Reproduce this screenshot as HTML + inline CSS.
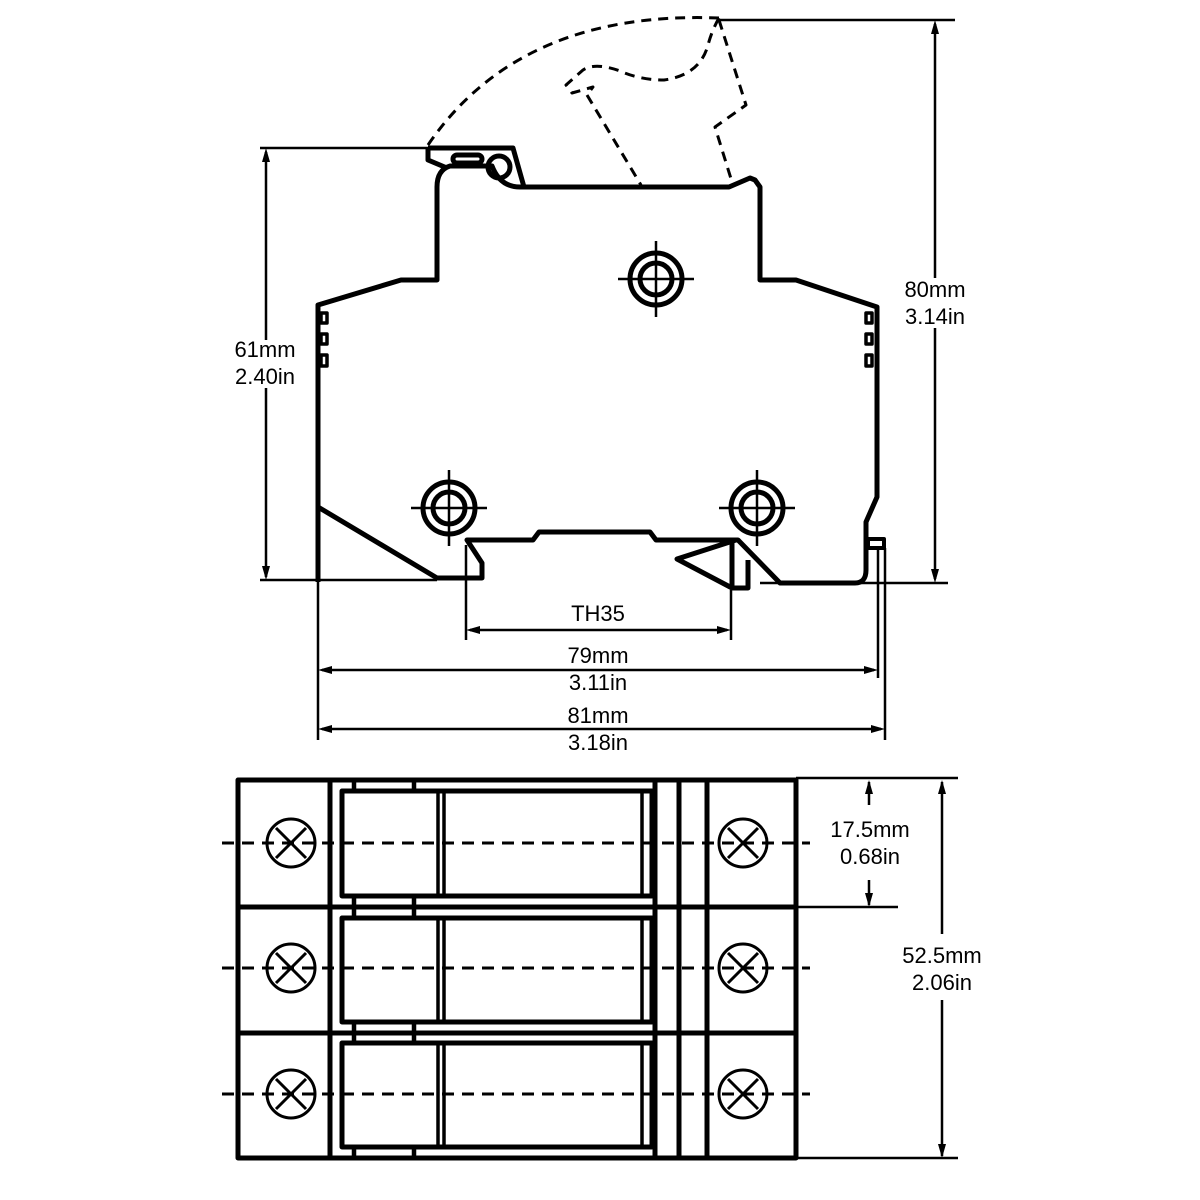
<!DOCTYPE html>
<html><head><style>body{margin:0;background:#fff}svg{display:block}text{font-family:"Liberation Sans",sans-serif;font-size:22px;fill:#000;text-anchor:middle}</style></head>
<body>
<svg width="1200" height="1200" viewBox="0 0 1200 1200">
<g fill="none" stroke="#000" stroke-linejoin="round">
<!-- dashed open handle -->
<g stroke-width="3" stroke-dasharray="10,7">
<path d="M428,145 Q520,10 719,18"/>
<path d="M719,18 Q712,30 708,45 Q700,75 664,80 Q640,80 620,71 Q595,62 583,70 L566,85 L572,93 L593,87 L587,95"/>
<path d="M587,95 L641,185"/>
<path d="M719,20 L746,105 L715,127 L732,182"/>
</g>
<!-- body -->
<g stroke-width="5">
<path d="M318,582 L318,305 L401,280 L437,280 L437,187 Q437,170 450,166 L492,166 Q500,187 520,187 L729,187 L750,178 L755,180 L760,187 L760,280 L796,280 L877,307 L877,497 L866,522 L866,570 Q866,583 855,583 L780,583 L738,540 L736,540"/>
<path d="M318,507 L437,578 L482,578 L482,563 L467,540 L533,540 L539,532 L650,532 L656,540 L736,540 L677,559 L732,588 L748,588 L748,560 M732,540 L732,588"/>
<path d="M428,148 L513,148 L524,187 M428,148 L428,160 L447,168"/>
<rect x="453" y="155" width="29" height="8" rx="4"/>
<circle cx="499" cy="167" r="11"/>
<rect x="868" y="539" width="16" height="9" stroke-width="4"/>
</g>
<g stroke-width="3.5">
<rect x="321" y="313" width="6" height="10"/><rect x="321" y="334" width="6" height="10"/><rect x="321" y="355" width="6" height="11"/>
<rect x="866" y="313" width="6" height="10"/><rect x="866" y="334" width="6" height="10"/><rect x="866" y="355" width="6" height="11"/>
</g>
<!-- terminal circles -->
<g stroke-width="5">
<circle cx="656" cy="279" r="26"/><circle cx="656" cy="279" r="16"/>
<circle cx="449" cy="508" r="26"/><circle cx="449" cy="508" r="16"/>
<circle cx="757" cy="508" r="26"/><circle cx="757" cy="508" r="16"/>
</g>
<g stroke-width="2.5">
<path d="M618,279h76M656,241v76M411,508h76M449,470v76M719,508h76M757,470v76"/>
<!-- dims top -->
<path d="M260,148H428M260,580H437M719,20H955M760,583H948"/>
<path d="M266,152V340M266,388V577"/>
<path d="M935,24V278M935,328V579"/>
<path d="M466,545V640M731,590V640M318,582V740M878,548V678M885,548V740"/>
<path d="M470,630H727M322,670H874M322,729H881"/>
</g>
<!-- bottom view -->
<g stroke-width="5">
<rect x="238" y="780" width="558" height="378"/>
<path d="M330,780V1158M655,780V1158M679,780V1158M707,780V1158M238,907H796M238,1033H796"/>
<path d="M354,780V791M414,780V791M354,896V918M414,896V918M354,1022V1043M414,1022V1043M354,1147V1158M414,1147V1158" stroke-width="4.5"/>
<rect x="342" y="791" width="310" height="105"/><rect x="342" y="918" width="310" height="104"/><rect x="342" y="1043" width="310" height="104"/>
<path d="M438,791V896M444,791V896M438,918V1022M444,918V1022M438,1043V1147M444,1043V1147M642,791V896M642,918V1022M642,1043V1147" stroke-width="3.5"/>
</g>
<g stroke-width="3" stroke-dasharray="12,8">
<path d="M222,843H810M222,968H810M222,1094H810"/>
</g>
<g stroke-width="3">
<circle cx="291" cy="843" r="24"/><circle cx="743" cy="843" r="24"/>
<circle cx="291" cy="968" r="24"/><circle cx="743" cy="968" r="24"/>
<circle cx="291" cy="1094" r="24"/><circle cx="743" cy="1094" r="24"/>
<path d="M276,828l30,30M306,828l-30,30M728,828l30,30M758,828l-30,30M276,953l30,30M306,953l-30,30M728,953l30,30M758,953l-30,30M276,1079l30,30M306,1079l-30,30M728,1079l30,30M758,1079l-30,30"/>
</g>
<g stroke-width="2.5">
<path d="M796,778H958M796,907H898M796,1158H958"/>
<path d="M869,805V782M869,880V905"/>
<path d="M942,782V934M942,1000V1156"/>
</g>
</g>
<g fill="#000">
<path d="M266,148l-4,14h8zM266,580l-4,-14h8z"/>
<path d="M935,20l-4,14h8zM935,583l-4,-14h8z"/>
<path d="M466,630l14,-4v8zM731,630l-14,-4v8z"/>
<path d="M318,670l14,-4v8zM878,670l-14,-4v8z"/>
<path d="M318,729l14,-4v8zM885,729l-14,-4v8z"/>
<path d="M869,780l-4,14h8zM869,907l-4,-14h8z"/>
<path d="M942,780l-4,14h8zM942,1158l-4,-14h8z"/>
</g>
<text x="265" y="357">61mm</text><text x="265" y="384">2.40in</text>
<text x="935" y="297">80mm</text><text x="935" y="324">3.14in</text>
<text x="598" y="621">TH35</text>
<text x="598" y="663">79mm</text><text x="598" y="690">3.11in</text>
<text x="598" y="723">81mm</text><text x="598" y="750">3.18in</text>
<text x="870" y="837">17.5mm</text><text x="870" y="864">0.68in</text>
<text x="942" y="963">52.5mm</text><text x="942" y="990">2.06in</text>
</svg>
</body></html>
